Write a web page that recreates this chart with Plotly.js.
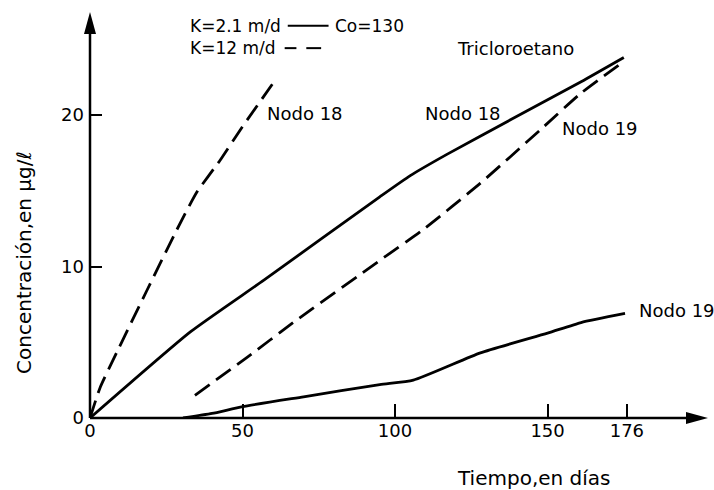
<!DOCTYPE html>
<html>
<head>
<meta charset="utf-8">
<script src="https://cdn.plot.ly/plotly-3.0.1.min.js"></script>
<style>html,body{margin:0;padding:0;background:#fff;}#chart{width:714px;height:490px;}</style>
</head>
<body>
<div id="chart"></div>
<script>
// Tiempo (días) and concentración (µg/l)
const solid18X = [0, 33, 57, 95, 105, 117, 138, 161, 175];
const solid18Y = [0, 5.7, 9.1, 14.6, 16.0, 17.4, 19.7, 22.2, 23.8];

const dashed18X = [0, 3.3, 8.7, 18.6, 28.4, 35, 42.6, 49.2, 60.7];
const dashed18Y = [0, 2.0, 4.3, 8.4, 12.4, 14.9, 17.0, 19.0, 22.3];

const dashed19X = [34.4, 51.5, 66.6, 95, 109, 128, 147.5, 160.7, 175.4];
const dashed19Y = [1.5, 4.0, 6.3, 10.4, 12.4, 15.5, 19.0, 21.4, 23.6];

const solid19X = [30.5, 40, 50, 70, 95, 106, 128, 150, 161, 175.4];
const solid19Y = [0, 0.3, 0.75, 1.4, 2.2, 2.5, 4.3, 5.6, 6.3, 6.9];

const xTicks = [0, 50, 100, 150, 176];
const yTicks = [0, 10, 20];

const FONT = 'DejaVu Sans, sans-serif';
const LW = 2.8;
const DASH = '18px,8px';

function tr(x, y, dash) {
  return {x: x, y: y, type: 'scatter', mode: 'lines',
    line: {color: '#000', width: LW, dash: dash, shape: 'spline', smoothing: 0.5},
    hoverinfo: 'skip', showlegend: false};
}

const data = [
  tr(solid18X, solid18Y, 'solid'),
  tr(dashed18X, dashed18Y, DASH),
  tr(dashed19X, dashed19Y, DASH),
  tr(solid19X, solid19Y, 'solid')
];

function txt(text, x, y, opts) {
  return Object.assign({text: text, x: x, y: y, showarrow: false,
    xanchor: 'left', yanchor: 'middle',
    font: {family: FONT, size: 18, color: '#000'}}, opts || {});
}

const layout = {
  width: 714, height: 490,
  margin: {l: 90, r: 6, t: 12, b: 72},
  paper_bgcolor: '#fff', plot_bgcolor: '#fff',
  font: {family: FONT, color: '#000'},
  xaxis: {range: [0, 202.6], showgrid: false, zeroline: false, showline: false,
    ticks: 'inside', ticklen: 14, tickwidth: 2, tickcolor: '#000',
    tickvals: xTicks, ticktext: xTicks.map(String),
    tickfont: {family: FONT, size: 18, color: '#000'}, fixedrange: true},
  yaxis: {range: [0, 26.8], showgrid: false, zeroline: false, showline: false,
    ticks: 'inside', ticklen: 12, tickwidth: 2, tickcolor: '#000',
    tickvals: yTicks, ticktext: yTicks.map(String), ticklabelstandoff: 5,
    tickfont: {family: FONT, size: 18, color: '#000'}, fixedrange: true},
  shapes: [
    {type: 'line', xref: 'paper', yref: 'paper', x0: 0, x1: 0.98, y0: 0, y1: 0,
      line: {color: '#000', width: 2.5}},
    {type: 'line', xref: 'paper', yref: 'paper', x0: 0, x1: 0, y0: 0, y1: 0.97,
      line: {color: '#000', width: 2.5}},
    {type: 'path', xref: 'paper', yref: 'paper', xsizemode: 'pixel', ysizemode: 'pixel',
      xanchor: 0, yanchor: 1, path: 'M0,0 L-6,-22 L6,-22 Z',
      fillcolor: '#000', line: {width: 0}},
    {type: 'path', xref: 'paper', yref: 'paper', xsizemode: 'pixel', ysizemode: 'pixel',
      xanchor: 1, yanchor: 0, path: 'M0,0 L-22,6 L-22,-6 Z',
      fillcolor: '#000', line: {width: 0}},
    // legend line samples
    {type: 'line', xref: 'paper', yref: 'paper', x0: 0.320, x1: 0.386, y0: 0.966, y1: 0.966,
      line: {color: '#000', width: 2}},
    {type: 'line', xref: 'paper', yref: 'paper', x0: 0.315, x1: 0.334, y0: 0.911, y1: 0.911,
      line: {color: '#000', width: 2}},
    {type: 'line', xref: 'paper', yref: 'paper', x0: 0.350, x1: 0.374, y0: 0.911, y1: 0.911,
      line: {color: '#000', width: 2}}
  ],
  annotations: [
    txt('K=2.1 m/d', 0.159, 0.966, {xref: 'paper', yref: 'paper', font: {family: FONT, size: 17, color: '#000'}}),
    txt('Co=130', 0.393, 0.966, {xref: 'paper', yref: 'paper', font: {family: FONT, size: 17, color: '#000'}}),
    txt('K=12 m/d', 0.159, 0.911, {xref: 'paper', yref: 'paper', font: {family: FONT, size: 17, color: '#000'}}),
    txt('Tricloroetano', 0.688, 0.911, {xref: 'paper', yref: 'paper', xanchor: 'center'}),
    txt('Nodo 18', 57.4, 20.1, {xref: 'x', yref: 'y'}),
    txt('Nodo 18', 109.2, 20.1, {xref: 'x', yref: 'y'}),
    txt('Nodo 19', 154, 19.1, {xref: 'x', yref: 'y'}),
    txt('Nodo 19', 179.3, 7.1, {xref: 'x', yref: 'y'}),
    txt('Tiempo,en días', 0.718, -0.148, {xref: 'paper', yref: 'paper', xanchor: 'center',
      font: {family: FONT, size: 20, color: '#000'}}),
    txt('Concentración,en μg/ℓ', -0.107, 0.384, {xref: 'paper', yref: 'paper', xanchor: 'center',
      textangle: -90, font: {family: FONT, size: 20, color: '#000'}})
  ]
};

Plotly.newPlot('chart', data, layout, {displayModeBar: false, staticPlot: true});
</script>
</body>
</html>
